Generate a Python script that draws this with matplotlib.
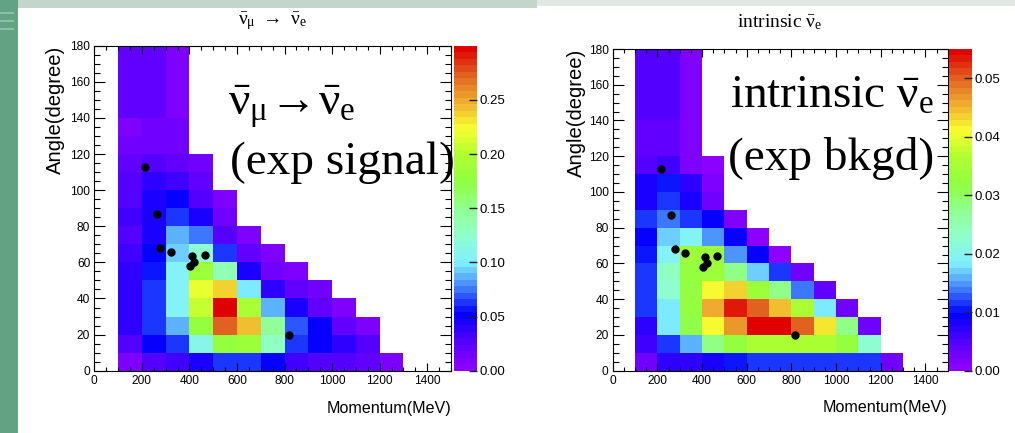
import numpy as np
import matplotlib
matplotlib.use('Agg')
import matplotlib.pyplot as plt
from matplotlib.colors import LinearSegmentedColormap
from matplotlib.patches import Rectangle
from matplotlib.ticker import MultipleLocator, FixedLocator, FormatStrFormatter
from matplotlib import font_manager as fm

# ---------------- data ----------------
mom_edges = list(range(100, 1301, 100))      # MeV
ang_edges = list(range(0, 181, 10))          # degree

# expected signal (nu_mu-bar -> nu_e-bar), per momentum bin, angle bins from 0 upward
signal_cols = [
    [0.010, 0.025, 0.037, 0.038, 0.040, 0.040, 0.030, 0.027, 0.030, 0.027, 0.025, 0.020, 0.013, 0.010, 0.020, 0.020, 0.020, 0.020],
    [0.025, 0.050, 0.060, 0.062, 0.062, 0.057, 0.050, 0.043, 0.043, 0.043, 0.037, 0.028, 0.017, 0.017, 0.020, 0.020, 0.020, 0.020],
    [0.035, 0.065, 0.088, 0.105, 0.105, 0.105, 0.090, 0.085, 0.065, 0.050, 0.030, 0.022, 0.013, 0.013, 0.010, 0.010, 0.010, 0.010],
    [0.045, 0.110, 0.175, 0.205, 0.220, 0.180, 0.125, 0.072, 0.042, 0.025, 0.020, 0.013],
    [0.060, 0.175, 0.275, 0.295, 0.235, 0.135, 0.060, 0.025, 0.013, 0.010],
    [0.060, 0.180, 0.245, 0.195, 0.100, 0.042, 0.020, 0.010],
    [0.050, 0.128, 0.145, 0.085, 0.037, 0.017, 0.010],
    [0.030, 0.065, 0.068, 0.043, 0.020, 0.008],
    [0.025, 0.048, 0.048, 0.022, 0.013],
    [0.025, 0.037, 0.022, 0.010],
    [0.020, 0.025, 0.008],
    [0.008],
]

# intrinsic nu_e-bar (expected background)
bkgd_cols = [
    [0.0022, 0.0055, 0.0072, 0.0110, 0.0120, 0.0110, 0.0105, 0.0094, 0.0110, 0.0077, 0.0077, 0.0050, 0.0033, 0.0033, 0.0052, 0.0052, 0.0052, 0.0052],
    [0.0066, 0.0116, 0.0180, 0.0180, 0.0225, 0.0237, 0.0190, 0.0165, 0.0137, 0.0110, 0.0105, 0.0055, 0.0038, 0.0038, 0.0050, 0.0050, 0.0050, 0.0050],
    [0.0072, 0.0160, 0.0310, 0.0320, 0.0320, 0.0320, 0.0340, 0.0190, 0.0118, 0.0085, 0.0075, 0.0020, 0.0017, 0.0017, 0.0017, 0.0017, 0.0017, 0.0017],
    [0.0080, 0.0275, 0.0410, 0.0460, 0.0410, 0.0340, 0.0340, 0.0143, 0.0088, 0.0022, 0.0017, 0.0008],
    [0.0105, 0.0320, 0.0470, 0.0530, 0.0435, 0.0275, 0.0143, 0.0088, 0.0015],
    [0.0120, 0.0360, 0.0550, 0.0505, 0.0340, 0.0165, 0.0094, 0.0010],
    [0.0120, 0.0360, 0.0550, 0.0445, 0.0275, 0.0110, 0.0010],
    [0.0120, 0.0360, 0.0495, 0.0360, 0.0137, 0.0022],
    [0.0120, 0.0360, 0.0420, 0.0180, 0.0033],
    [0.0116, 0.0320, 0.0275, 0.0022],
    [0.0120, 0.0225, 0.0022],
    [0.0022],
]

# observed events (black dots)
event_mom = [215, 263, 277, 324, 412, 420, 403, 465, 818]
event_ang = [113, 87, 68, 66, 63.5, 60, 58, 64, 20]

signal_ticks = [0.00, 0.05, 0.10, 0.15, 0.20, 0.25]
signal_range = (0.0, 0.30)
bkgd_ticks = [0.00, 0.01, 0.02, 0.03, 0.04, 0.05]
bkgd_range = (0.0, 0.055)

x_ticks = [0, 200, 400, 600, 800, 1000, 1200, 1400]
y_ticks = [0, 20, 40, 60, 80, 100, 120, 140, 160, 180]

# ---------------- style ----------------
names = {f.name for f in fm.fontManager.ttflist}
if 'Liberation Sans Narrow' in names:
    SANS_N, NS = 'Liberation Sans Narrow', 1.0
else:
    SANS_N, NS = 'Liberation Sans', 0.82

plt.rcParams['mathtext.fontset'] = 'custom'
plt.rcParams['mathtext.rm'] = 'Liberation Serif'
plt.rcParams['mathtext.it'] = 'Liberation Serif'
plt.rcParams['mathtext.bf'] = 'Liberation Serif:bold'
plt.rcParams['font.family'] = ['Liberation Sans', 'DejaVu Sans']

# ROOT "pretty" palette look (violet -> blue -> cyan -> green -> yellow -> red), 50 bands
anchors = [
    (0.00, '#8c00ff'), (0.08, '#5500ff'), (0.17, '#0000ff'), (0.25, '#4080ff'),
    (0.33, '#80f0ff'), (0.42, '#90ffc8'), (0.50, '#90ff90'), (0.58, '#90ff40'),
    (0.67, '#b0ff30'), (0.75, '#f8ff30'), (0.83, '#f0b030'), (0.92, '#e06020'),
    (1.00, '#e00000'),
]
cmap = LinearSegmentedColormap.from_list('rootpal', anchors, N=50)
cmap.set_bad((1, 1, 1, 0))

W, H = 1015, 433
fig = plt.figure(figsize=(W / 100, H / 100), dpi=100, facecolor='white')

# slide decoration
fig.add_artist(Rectangle((0, 0), 18 / W, 1, transform=fig.transFigure,
                         facecolor='#63a384', edgecolor='none', zorder=-10))
fig.add_artist(Rectangle((18 / W, 1 - 8 / H), (537 - 18) / W, 8 / H, transform=fig.transFigure,
                         facecolor='#c4d6cc', edgecolor='none', zorder=-10))
fig.add_artist(Rectangle((537 / W, 1 - 6 / H), 1 - 537 / W, 6 / H, transform=fig.transFigure,
                         facecolor='#dfe8e3', edgecolor='none', zorder=-10))
for yy in (14, 22, 30):
    fig.add_artist(Rectangle((0, 1 - yy / H), 14 / W, 2 / H, transform=fig.transFigure,
                             facecolor='#8cbfa5', edgecolor='none', zorder=-9))


def grid(cols):
    z = np.full((len(cols), len(ang_edges) - 1), np.nan)
    for i, c in enumerate(cols):
        z[i, :len(c)] = c
    return np.ma.masked_invalid(z.T)


def px(x, y):
    return x / W, 1 - y / H


def panel(rect, crect, cols, vr, cticks):
    ax = fig.add_axes(rect)
    mesh = ax.pcolormesh(mom_edges, ang_edges, grid(cols), cmap=cmap,
                         vmin=vr[0], vmax=vr[1], shading='flat')
    ax.plot(event_mom, event_ang, 'o', color='black', ms=5, mec='black', zorder=5)
    ax.set_xlim(0, 1500)
    ax.set_ylim(0, 180)
    ax.xaxis.set_major_locator(FixedLocator(x_ticks))
    ax.xaxis.set_minor_locator(MultipleLocator(50))
    ax.yaxis.set_major_locator(FixedLocator(y_ticks))
    ax.yaxis.set_minor_locator(MultipleLocator(5))
    ax.tick_params(which='both', direction='in', top=True, right=True,
                   color='black', width=0.8)
    ax.tick_params(axis='x', which='major', length=6, pad=3)
    ax.tick_params(axis='x', which='minor', length=3)
    ax.tick_params(axis='y', which='major', length=8, pad=3)
    ax.tick_params(axis='y', which='minor', length=4)
    for lab in ax.get_xticklabels() + ax.get_yticklabels():
        lab.set_family(SANS_N)
        lab.set_fontsize(10.4 * NS)
    for s in ax.spines.values():
        s.set_linewidth(0.8)
        s.set_color('black')
    ax.text(1.0, -0.115, 'Momentum(MeV)', transform=ax.transAxes, ha='right',
            va='center', family=SANS_N, fontsize=14.2 * NS)
    ax.text(-0.108, 1.0, 'Angle(degree)', transform=ax.transAxes, ha='center',
            va='top', rotation=90, family=SANS_N, fontsize=17.8 * NS)

    cax = fig.add_axes(crect)
    cb = fig.colorbar(mesh, cax=cax)
    cb.outline.set_visible(False)
    cb.set_ticks(cticks)
    cax.yaxis.set_major_formatter(FormatStrFormatter('%.2f'))
    cax.minorticks_off()
    cax.tick_params(direction='in', length=6, width=1, color='#222222', pad=2,
                    labelsize=9.5)
    return ax


axL = panel([94.3 / W, 1 - 370.7 / H, (451 - 94.3) / W, (370.7 - 45.7) / H],
            [453.5 / W, 1 - 370.7 / H, 23.5 / W, (370.7 - 45.7) / H],
            signal_cols, signal_range, signal_ticks)
axR = panel([612.7 / W, 1 - 370.7 / H, (947.7 - 612.7) / W, (370.7 - 49) / H],
            [949.3 / W, 1 - 370.7 / H, 22.5 / W, (370.7 - 49) / H],
            bkgd_cols, bkgd_range, bkgd_ticks)

# titles
fig.text(*px(272, 22), r'$\bar{\nu}_{\mu}\ \rightarrow\ \bar{\nu}_{e}$', ha='center',
         va='center', family='Liberation Serif', fontsize=14)
fig.text(*px(780, 22), r'intrinsic $\bar{\nu}_{e}$', ha='center', va='center',
         family='Liberation Serif', fontsize=14)

# large overlay labels
fig.text(*px(228, 115), r'$\bar{\nu}_{\mu}\!\rightarrow\!\bar{\nu}_{e}$', ha='left',
         va='baseline', family='Liberation Serif', fontsize=34, zorder=10)
fig.text(*px(230, 174), '(exp signal)', ha='left', va='baseline',
         family='Liberation Serif', fontsize=34, zorder=10)
fig.text(*px(730, 108), r'intrinsic $\bar{\nu}_{e}$', ha='left', va='baseline',
         family='Liberation Serif', fontsize=34, zorder=10)
fig.text(*px(728, 170), '(exp bkgd)', ha='left', va='baseline',
         family='Liberation Serif', fontsize=34, zorder=10)

fig.savefig('out.png', dpi=100, facecolor='white')
